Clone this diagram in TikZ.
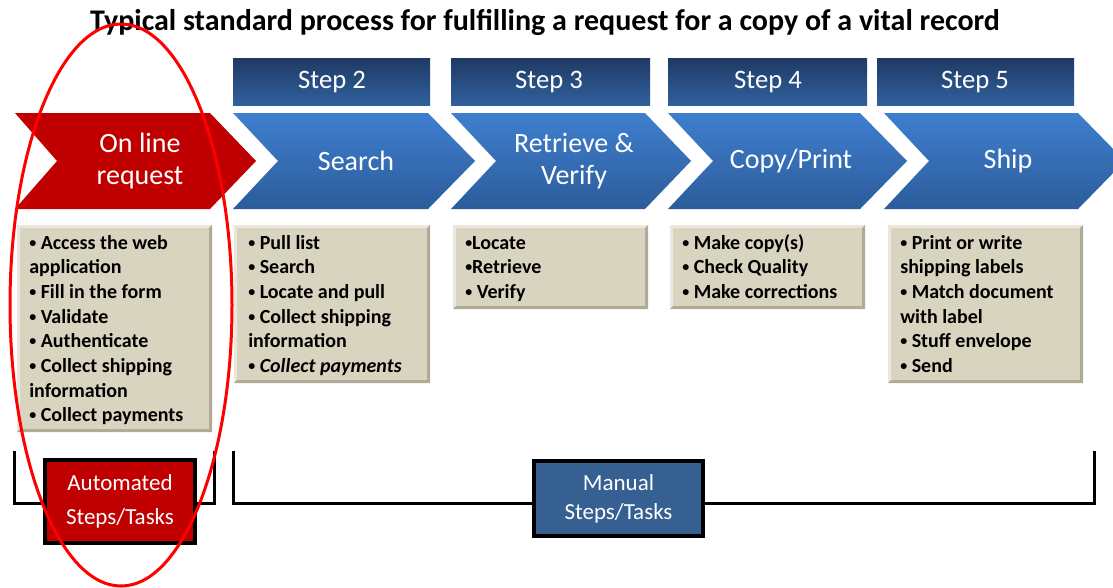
\documentclass[tikz,border=0pt]{standalone}
\usepackage{fontspec}
\setmainfont{Carlito}
\definecolor{autored}{HTML}{C00000}
\definecolor{chtop}{HTML}{3F7FCF}
\definecolor{chbot}{HTML}{2C5C9A}
\definecolor{hdtop}{HTML}{1F3A64}
\definecolor{hdbot}{HTML}{30619D}
\definecolor{beige}{HTML}{D9D4C0}
\definecolor{bevlight}{HTML}{EAE7DC}
\definecolor{bevdark}{HTML}{B0AB96}
\definecolor{manualblue}{HTML}{366092}
\definecolor{ellred}{HTML}{FF0000}
\newcommand{\taskbox}[4]{%
  \fill[beige] (#1,#2) rectangle (#3,#4);
  \fill[bevlight] (#1,#2) -- (#3,#2) -- ([shift={(-3,3)}]#3,#2) -- ([shift={(3,3)}]#1,#2) -- ([shift={(3,-3)}]#1,#4) -- (#1,#4) -- cycle;
  \fill[bevdark] (#1,#4) -- (#3,#4) -- (#3,#2) -- ([shift={(-3,3)}]#3,#2) -- ([shift={(-3,-3)}]#3,#4) -- ([shift={(3,-3)}]#1,#4) -- cycle;
}
\newcommand{\bul}{\raisebox{0.2ex}{\scalebox{0.7}{•}}}
\begin{document}
\begin{tikzpicture}[x=0.75pt,y=-0.75pt,
  titletext/.style={font=\bfseries\fontsize{22.5pt}{26pt}\selectfont, anchor=base, inner sep=0pt},
  steptext/.style={text=white, font=\fontsize{20pt}{23pt}\selectfont, inner sep=0pt},
  chevtext/.style={text=white, font=\fontsize{21pt}{24pt}\selectfont, align=center, inner sep=0pt},
  tasktext/.style={font=\bfseries\fontsize{15pt}{18.5pt}\selectfont, align=left, anchor=base west, inner sep=0pt},
  hdrshade/.style={top color=hdtop, bottom color=hdbot},
  chshade/.style={top color=chtop, bottom color=chbot},
  bracket/.style={line width=2.25pt, line cap=rect},
  legendbox/.style={draw=black, line width=3pt, text=white, align=center,
     font=\fontsize{17.25pt}{26pt}\selectfont, inner sep=0pt},
]
\useasboundingbox (0,0) rectangle (1113,587);
\clip (0,0) rectangle (1113,587);
\fill[white] (0,0) rectangle (1113,587);

% title
\node[titletext] (title) at (545,30) {Typical standard process for fulfilling a request for a copy of a vital record};

% step headers
\shade[hdrshade] (233,58) rectangle (430,105);
\shade[hdrshade] (451,58) rectangle (650,105);
\shade[hdrshade] (668,58) rectangle (867,105);
\shade[hdrshade] (877,58) rectangle (1074,105);
\node[steptext] (h2) at (332,82) {Step 2};
\node[steptext] (h3) at (549,82) {Step 3};
\node[steptext] (h4) at (768,82) {Step 4};
\node[steptext] (h5) at (975,82) {Step 5};

% chevrons
\fill[autored] (15,113) -- (210,113) -- (256,161) -- (210,209) -- (15,209) -- (57,161) -- cycle;
\shade[chshade] (233,113) -- (428,113) -- (475,161) -- (428,209) -- (233,209) -- (278,161) -- cycle;
\shade[chshade] (451,113) -- (645,113) -- (691,161) -- (645,209) -- (451,209) -- (496,161) -- cycle;
\shade[chshade] (668,113) -- (860,113) -- (907,161) -- (860,209) -- (668,209) -- (713,161) -- cycle;
\shade[chshade] (884,113) -- (1078,113) -- (1125,161) -- (1078,209) -- (884,209) -- (929,161) -- cycle;
\node[chevtext] (c1) at (140,161) {On line\\request};
\node[chevtext] (c2) at (356,161) {Search};
\node[chevtext] (c3) at (574,161) {Retrieve \&\\Verify};
\node[chevtext] (c4) at (791,161) {Copy/Print};
\node[chevtext] (c5) at (1008,161) {Ship};

% task boxes
\taskbox{17}{225}{212}{432}
\taskbox{234}{225}{430}{383}
\taskbox{453}{225}{648}{309}
\taskbox{670}{225}{865}{309}
\taskbox{888}{225}{1083}{383}

% (base anchor of a multi-line node = baseline of its last line)
\node[tasktext] (t1) at (29,421.9) {\bul\ Access the web\\application\\\bul\ Fill in the form\\\bul\ Validate\\\bul\ Authenticate\\\bul\ Collect shipping\\information\\\bul\ Collect payments};
\node[tasktext] (t2) at (248,372.5) {\bul\ Pull list\\\bul\ Search\\\bul\ Locate and pull\\\bul\ Collect shipping\\information\\\bul\ \textit{Collect payments}};
\node[tasktext] (t3) at (465,298.4) {\bul Locate\\\bul Retrieve\\\bul\ Verify};
\node[tasktext] (t4) at (682,298.4) {\bul\ Make copy(s)\\\bul\ Check Quality\\\bul\ Make corrections};
\node[tasktext] (t5) at (900,372.5) {\bul\ Print or write\\shipping labels\\\bul\ Match document\\with label\\\bul\ Stuff envelope\\\bul\ Send};

% brackets
\coordinate (b1a) at (14,452);
\coordinate (b1b) at (214,452);
\coordinate (b2a) at (233,452);
\coordinate (b2b) at (1094,452);
\draw[bracket] (b1a) -- (14,503) -- (214,503) -- (b1b);
\draw[bracket] (b2a) -- (233,503) -- (1094,503) -- (b2b);

% legend boxes
\node[legendbox, fill=autored, minimum width=112.5pt, minimum height=62.25pt] (auto) at (120,501.5) {Automated\\Steps/Tasks};
\node[legendbox, fill=manualblue, minimum width=126.75pt, minimum height=56.25pt,
      font=\fontsize{17.25pt}{21.75pt}\selectfont] (manual) at (618.5,498.5) {Manual\\Steps/Tasks};

% highlight ellipse
\draw[ellred, line width=2.25pt] (121,305) ellipse [x radius=83.25pt, y radius=210.75pt];
\end{tikzpicture}
\end{document}
